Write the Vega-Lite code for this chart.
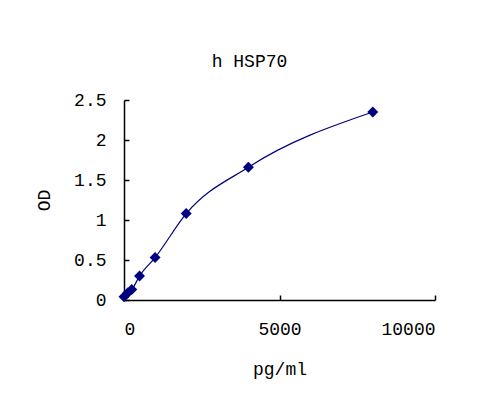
{
  "$schema": "https://vega.github.io/schema/vega-lite/v6.json",
  "width": 311,
  "height": 200,
  "autosize": {"type": "none"},
  "padding": {"left": 124, "top": 100, "right": 43, "bottom": 102},
  "background": "white",
  "config": {
    "view": {"stroke": null},
    "font": "Liberation Mono",
    "axis": {
      "domainColor": "#000000",
      "tickColor": "#000000",
      "labelColor": "#000000",
      "titleColor": "#000000",
      "labelFont": "Liberation Mono",
      "titleFont": "Liberation Mono",
      "labelFontSize": 18,
      "titleFontSize": 18,
      "titleFontWeight": "normal",
      "grid": false,
      "domainWidth": 1.5,
      "tickWidth": 1.5
    }
  },
  "title": {
    "text": "h HSP70",
    "font": "Liberation Mono",
    "fontSize": 18,
    "fontWeight": "normal",
    "color": "#000000",
    "anchor": "middle",
    "dx": -30,
    "offset": 20
  },
  "data": {
    "values": [
      {"conc": 0, "od": 0.04},
      {"conc": 125, "od": 0.09},
      {"conc": 250, "od": 0.13},
      {"conc": 500, "od": 0.30},
      {"conc": 1000, "od": 0.53},
      {"conc": 2000, "od": 1.08},
      {"conc": 4000, "od": 1.66},
      {"conc": 8000, "od": 2.35}
    ]
  },
  "encoding": {
    "x": {
      "field": "conc",
      "type": "quantitative",
      "scale": {"domain": [0, 10000], "nice": false},
      "axis": {"values": [0, 5000, 10000], "format": "d", "title": "pg/ml", "tickSize": -5, "labelPadding": 25, "titlePadding": 22}
    },
    "y": {
      "field": "od",
      "type": "quantitative",
      "scale": {"domain": [0, 2.5], "nice": false},
      "axis": {"values": [0, 0.5, 1, 1.5, 2, 2.5], "format": ".1~f", "title": "OD", "tickSize": -5, "labelPadding": 23, "titlePadding": 20}
    }
  },
  "layer": [
    {"mark": {"type": "line", "interpolate": "monotone", "color": "#000080", "strokeWidth": 1.2}},
    {"mark": {"type": "point", "shape": "diamond", "filled": true, "color": "#000080", "opacity": 1, "size": 120}}
  ]
}
